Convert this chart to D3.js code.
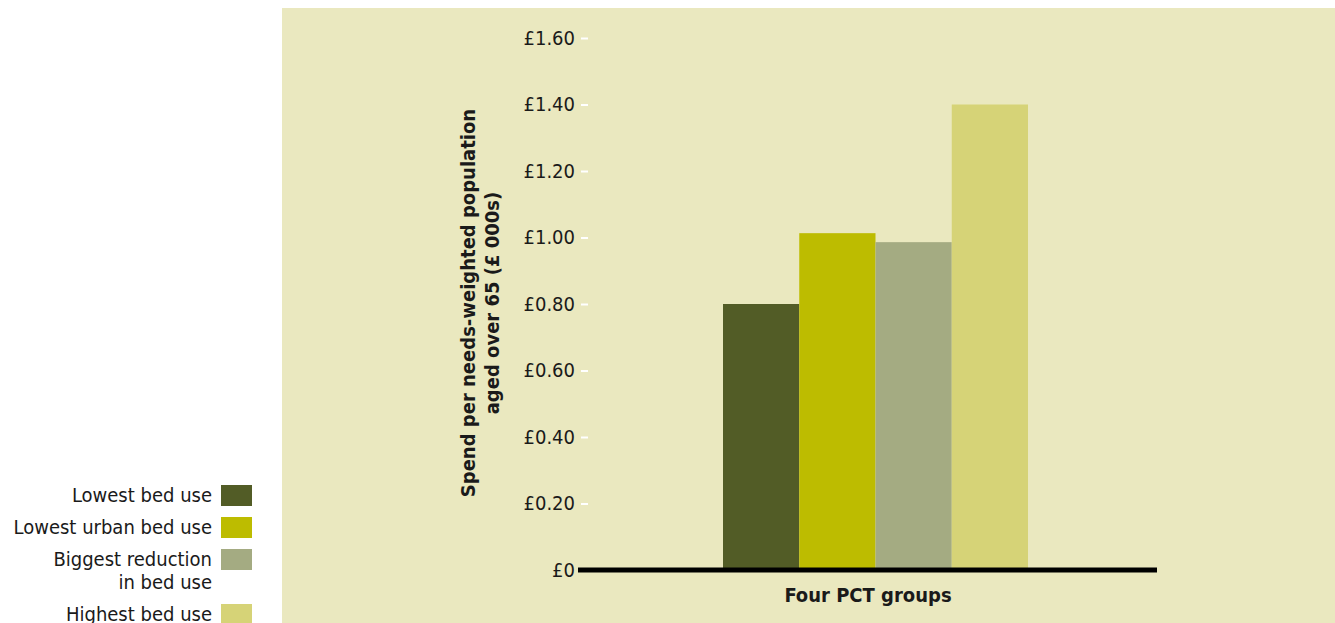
<!DOCTYPE html>
<html>
<head>
<meta charset="utf-8">
<script src="https://cdn.jsdelivr.net/npm/d3@7"></script>
<style>
body{margin:0;background:#fff;}
text{font-family:"DejaVu Sans Condensed","DejaVu Sans",sans-serif;fill:#1a1a1a;}
</style>
</head>
<body>
<div id="chart"></div>
<script>
var groups=["Lowest bed use","Lowest urban bed use","Biggest reduction in bed use","Highest bed use"];
var legendLines=[["Lowest bed use"],["Lowest urban bed use"],["Biggest reduction","in bed use"],["Highest bed use"]];
var spend=[0.80,1.013,0.986,1.40];
var colors=["#525c26","#bdbc00","#a4ab82","#d6d377"];
var yTicks=[0,0.2,0.4,0.6,0.8,1.0,1.2,1.4,1.6];
var yTitle=["Spend per needs-weighted population","aged over 65 (£ 000s)"];
var xTitle="Four PCT groups";

var W=1335,H=623;
var svg=d3.select("#chart").append("svg").attr("width",W).attr("height",H);

// panel
svg.append("rect").attr("x",282).attr("y",8).attr("width",W-282).attr("height",H-8).attr("fill","#eae8bf");

var y=d3.scaleLinear().domain([0,1.6]).range([570,38]);
var x=d3.scaleBand().domain(groups).range([723,1028]).padding(0);

// y axis
var yAxis=d3.axisLeft(y).tickValues(yTicks).tickSize(7).tickPadding(6)
	.tickFormat(function(d){return d===0?"£0":"£"+d.toFixed(2);});
var gy=svg.append("g").attr("transform","translate(588,0)").call(yAxis);
gy.select(".domain").remove();
gy.selectAll(".tick line").attr("stroke","#fff").attr("stroke-width",2);
gy.selectAll(".tick text").attr("font-size",20).attr("fill","#1a1a1a").style("font-family",null);

// bars
svg.selectAll("rect.bar").data(spend).enter().append("rect")
	.attr("class","bar")
	.attr("x",function(d,i){return x(groups[i]);})
	.attr("width",x.bandwidth())
	.attr("y",function(d){return y(d);})
	.attr("height",function(d){return y(0)-y(d);})
	.attr("fill",function(d,i){return colors[i];});

// baseline
svg.append("line").attr("x1",578).attr("x2",1157).attr("y1",y(0)).attr("y2",y(0))
	.attr("stroke","#000").attr("stroke-width",5);

// x title
svg.append("text").attr("x",868).attr("y",602).attr("text-anchor","middle")
	.attr("font-size",20).attr("font-weight","bold").text(xTitle);

// y title
var yt=svg.append("text").attr("transform","translate(475,303) rotate(-90)")
	.attr("text-anchor","middle").attr("font-size",20).attr("font-weight","bold");
yTitle.forEach(function(t,i){
	yt.append("tspan").attr("x",0).attr("dy",i===0?0:24).text(t);
});

// legend
var legY=[495,527,559,614];
legendLines.forEach(function(lines,i){
	svg.append("rect").attr("x",221).attr("y",legY[i]-10).attr("width",31).attr("height",21).attr("fill",colors[i]);
	var t=svg.append("text").attr("x",212).attr("y",legY[i]+7).attr("text-anchor","end").attr("font-size",20);
	lines.forEach(function(l,j){
		t.append("tspan").attr("x",212).attr("dy",j===0?0:23).text(l);
	});
});
</script>
</body>
</html>
